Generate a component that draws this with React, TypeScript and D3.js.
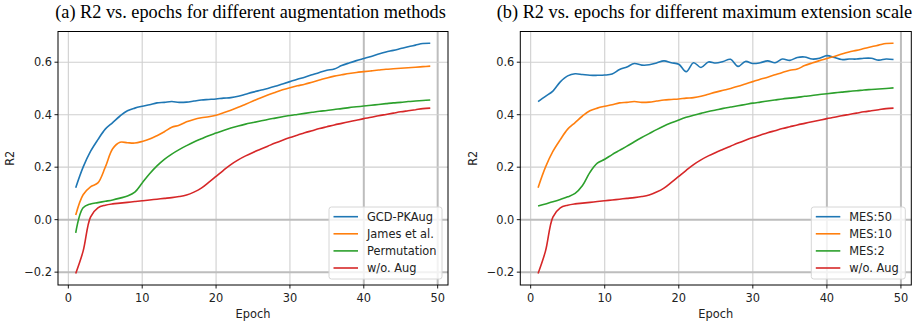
import React from "react";
import * as d3 from "d3";

const epochs = Array.from({ length: 49 }, (_, i) => i + 1);

const gcdPKAug = [0.122, 0.2, 0.26, 0.305, 0.345, 0.37, 0.395, 0.415, 0.425, 0.432, 0.438, 0.445, 0.447, 0.45, 0.447, 0.448, 0.452, 0.456, 0.458, 0.46, 0.463, 0.465, 0.47, 0.478, 0.486, 0.493, 0.5, 0.508, 0.517, 0.526, 0.535, 0.543, 0.552, 0.561, 0.569, 0.574, 0.587, 0.597, 0.606, 0.614, 0.622, 0.631, 0.639, 0.645, 0.652, 0.659, 0.665, 0.671, 0.672];
const jamesEtAl = [0.018, 0.095, 0.125, 0.14, 0.2, 0.27, 0.295, 0.293, 0.292, 0.298, 0.307, 0.32, 0.335, 0.352, 0.36, 0.373, 0.382, 0.388, 0.392, 0.398, 0.407, 0.417, 0.428, 0.44, 0.452, 0.464, 0.475, 0.485, 0.495, 0.503, 0.51, 0.516, 0.524, 0.532, 0.54, 0.547, 0.552, 0.557, 0.561, 0.564, 0.567, 0.57, 0.573, 0.575, 0.577, 0.579, 0.581, 0.583, 0.585];
const permutation = [-0.05, 0.045, 0.06, 0.065, 0.07, 0.075, 0.082, 0.09, 0.105, 0.14, 0.175, 0.205, 0.23, 0.25, 0.267, 0.282, 0.296, 0.308, 0.32, 0.33, 0.34, 0.349, 0.357, 0.364, 0.37, 0.376, 0.382, 0.387, 0.392, 0.397, 0.401, 0.405, 0.409, 0.413, 0.416, 0.42, 0.423, 0.427, 0.43, 0.433, 0.436, 0.439, 0.442, 0.445, 0.447, 0.45, 0.452, 0.454, 0.456];
const woAug = [-0.205, -0.12, 0.01, 0.045, 0.055, 0.06, 0.063, 0.066, 0.069, 0.072, 0.075, 0.078, 0.081, 0.084, 0.088, 0.094, 0.105, 0.12, 0.142, 0.165, 0.188, 0.21, 0.228, 0.243, 0.256, 0.268, 0.28, 0.292, 0.303, 0.313, 0.322, 0.331, 0.339, 0.347, 0.354, 0.361, 0.367, 0.373, 0.379, 0.385, 0.39, 0.396, 0.401, 0.406, 0.411, 0.415, 0.419, 0.423, 0.425];

const mes50 = [0.45, 0.47, 0.49, 0.525, 0.548, 0.556, 0.553, 0.55, 0.55, 0.551, 0.555, 0.572, 0.582, 0.595, 0.589, 0.59, 0.597, 0.605, 0.598, 0.592, 0.564, 0.598, 0.58, 0.601, 0.597, 0.603, 0.611, 0.584, 0.603, 0.595, 0.598, 0.605, 0.598, 0.612, 0.607, 0.618, 0.62, 0.612, 0.615, 0.625, 0.618, 0.61, 0.612, 0.612, 0.615, 0.615, 0.608, 0.612, 0.61];
const mes10 = gcdPKAug;
const mes2 = [0.052, 0.06, 0.068, 0.077, 0.087, 0.1, 0.13, 0.18, 0.215, 0.23, 0.248, 0.264, 0.28, 0.297, 0.313, 0.328, 0.343, 0.357, 0.369, 0.38, 0.39, 0.398, 0.405, 0.412, 0.418, 0.424, 0.429, 0.434, 0.439, 0.444, 0.448, 0.452, 0.456, 0.46, 0.463, 0.466, 0.47, 0.473, 0.477, 0.48, 0.483, 0.486, 0.489, 0.491, 0.494, 0.496, 0.498, 0.5, 0.502];

const xTicks = [0, 10, 20, 30, 40, 50];
const yTicks = [-0.2, 0.0, 0.2, 0.4, 0.6];

const titleA = "(a) R2 vs. epochs for different augmentation methods";
const titleB = "(b) R2 vs. epochs for different maximum extension scale";

const colors = ["#1f77b4", "#ff7f0e", "#2ca02c", "#d62728"];

const panelA = {
  title: titleA,
  series: [
    { name: "GCD-PKAug", values: gcdPKAug },
    { name: "James et al.", values: jamesEtAl },
    { name: "Permutation", values: permutation },
    { name: "w/o. Aug", values: woAug },
  ],
};
const panelB = {
  title: titleB,
  series: [
    { name: "MES:50", values: mes50 },
    { name: "MES:10", values: mes10 },
    { name: "MES:2", values: mes2 },
    { name: "w/o. Aug", values: woAug },
  ],
};

const FONT = "DejaVu Sans, sans-serif";
const FS = 11.4;

function Panel({ panel, left, right, titleX, legendW, labelX }) {
  const top = 31.5;
  const bottom = 285;
  const x = d3.scaleLinear().domain([-1.4, 51.4]).range([left, right]);
  const y = d3.scaleLinear().domain([-0.249, 0.717]).range([bottom, top]);
  const line = d3
    .line<number>()
    .x((_, i) => x(epochs[i]))
    .y((d) => y(d))
    .curve(d3.curveCatmullRom.alpha(0.5));
  const fmt = (v: number) => (v < 0 ? "\u2212" + Math.abs(v).toFixed(1) : v.toFixed(1));
  const thickY = (v: number) => v <= 0.001;
  const thickX = (v: number) => v >= 40;
  const legX = right - 6 - legendW;
  const legY = 207;
  return (
    <g>
      <text x={titleX} y={18} textAnchor="middle" fontFamily="Liberation Serif, Times New Roman, serif" fontSize={18.3} fill="#000">
        {panel.title}
      </text>
      <defs>
        <clipPath id={"clip" + left}>
          <rect x={left} y={top} width={right - left} height={bottom - top} />
        </clipPath>
      </defs>
      {xTicks.map((t) => (
        <line key={"gx" + t} x1={x(t)} x2={x(t)} y1={top} y2={bottom} stroke={thickX(t) ? "#bdbdbd" : "#cfcfcf"} strokeWidth={thickX(t) ? 2 : 1.1} />
      ))}
      {yTicks.map((t) => (
        <line key={"gy" + t} x1={left} x2={right} y1={y(t)} y2={y(t)} stroke={thickY(t) ? "#bdbdbd" : "#cfcfcf"} strokeWidth={thickY(t) ? 2 : 1.1} />
      ))}
      <g clipPath={`url(#clip${left})`}>
        {panel.series.map((s, i) => (
          <path key={s.name} d={line(s.values) || ""} fill="none" stroke={colors[i]} strokeWidth={1.6} />
        ))}
      </g>
      <rect x={left} y={top} width={right - left} height={bottom - top} fill="none" stroke="#000" strokeWidth={1} />
      {xTicks.map((t) => (
        <g key={"tx" + t}>
          <line x1={x(t)} x2={x(t)} y1={bottom} y2={bottom + 3.5} stroke="#000" strokeWidth={0.9} />
          <text x={x(t)} y={302} textAnchor="middle" fontFamily={FONT} fontSize={FS} fill="#222">
            {t}
          </text>
        </g>
      ))}
      {yTicks.map((t) => (
        <g key={"ty" + t}>
          <line x1={left - 3.5} x2={left} y1={y(t)} y2={y(t)} stroke="#000" strokeWidth={0.9} />
          <text x={left - 6} y={y(t) + 4.2} textAnchor="end" fontFamily={FONT} fontSize={FS} fill="#222">
            {fmt(t)}
          </text>
        </g>
      ))}
      <text x={(left + right) / 2} y={318} textAnchor="middle" fontFamily={FONT} fontSize={FS} fill="#222">
        Epoch
      </text>
      <text transform={`translate(${labelX},${(top + bottom) / 2}) rotate(-90)`} textAnchor="middle" fontFamily={FONT} fontSize={FS} fill="#222">
        R2
      </text>
      <rect x={legX} y={legY} width={legendW} height={72} rx={2.5} fill="#fff" fillOpacity={0.8} stroke="#d6d6d6" strokeWidth={1} />
      {panel.series.map((s, i) => (
        <g key={"lg" + s.name}>
          <line x1={legX + 4.5} x2={legX + 29} y1={legY + 9.7 + i * 17.1} y2={legY + 9.7 + i * 17.1} stroke={colors[i]} strokeWidth={1.6} />
          <text x={legX + 38} y={legY + 13.8 + i * 17.1} fontFamily={FONT} fontSize={FS} fill="#222">
            {s.name}
          </text>
        </g>
      ))}
    </g>
  );
}

export default function App() {
  return (
    <svg width={920} height={324} style={{ position: "absolute", left: 0, top: 0, background: "#fff" }}>
      <rect width={920} height={324} fill="#fff" />
      <Panel panel={panelA} left={58} right={448} titleX={250.5} legendW={113} labelX={14} />
      <Panel panel={panelB} left={520.3} right={911.3} titleX={704.5} legendW={94} labelX={477} />
    </svg>
  );
}
